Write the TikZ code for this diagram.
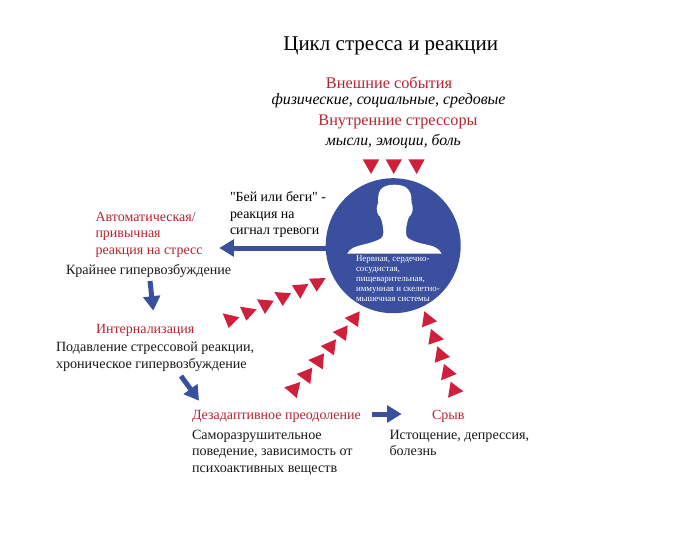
\documentclass[tikz,border=0pt]{standalone}
\usepackage{fontspec}
\setmainfont{Liberation Serif}
\newfontfamily\rawserif{Liberation Serif}
\usetikzlibrary{arrows.meta}
\definecolor{stressblue}{HTML}{3B4F9F}
\definecolor{trired}{HTML}{CF1F3C}
\definecolor{headred}{HTML}{B5242F}
\newcommand{\tri}[3]{\fill[trired] #1 -- #2 -- #3 -- cycle;}
\tikzset{
  every node/.style={inner sep=0pt,outer sep=0pt},
  head/.style={text=headred,anchor=north west,align=left,font=\fontsize{14}{16.4}\selectfont},
  body/.style={text=black!90,anchor=north west,align=left,font=\fontsize{14.1}{16.4}\selectfont},
  mid/.style={anchor=center,align=center},
  flow/.style={draw=stressblue,line width=5pt,-{Triangle[length=14.5pt,width=16.5pt]}},
}
\begin{document}
\begin{tikzpicture}[x=1pt,y=-1pt]
\useasboundingbox (0,0) rectangle (700,543);

% Title and stress sources
\node[mid,font=\fontsize{21}{24}\selectfont] (title) at (390.7,45.5) {Цикл стресса и реакции};
\node[mid,text=headred,font=\fontsize{16.3}{18}\selectfont] (ext) at (389,82.5) {Внешние события};
\node[mid,font=\itshape\fontsize{15.9}{18}\selectfont] (extsub) at (388.5,100.5) {физические, социальные, средовые};
\node[mid,text=headred,font=\fontsize{16.2}{18}\selectfont] (int) at (398,122) {Внутренние стрессоры};
\node[mid,font=\itshape\fontsize{15.7}{18}\selectfont] (intsub) at (393.3,141) {мысли, эмоции, боль};

% Triangles above the figure
\tri{(362.7,159.3)}{(379.3,159.3)}{(371,174)}
\tri{(385.7,159.3)}{(402,159.3)}{(393.7,174)}
\tri{(408.3,159.3)}{(424.7,159.3)}{(416.7,174)}

% Body systems disc with silhouette
\node[circle,fill=stressblue,minimum size=135pt] (disc) at (393.2,245.7) {};
\fill[white] (347.3,253.5) .. controls (350,249) and (353,247.5) .. (358,246)
  .. controls (365,244) and (369,243.5) .. (374,241.5)
  .. controls (380,239.5) and (383.3,238) .. (383.3,233)
  .. controls (383.3,229) and (383,227) .. (382.5,224.5)
  .. controls (381.5,220) and (381,218) .. (380,216.5)
  .. controls (377.5,215) and (376.5,211) .. (376.7,208)
  .. controls (376.9,205) and (378,204) .. (378.3,203)
  .. controls (377.5,196) and (378.5,190.5) .. (383,187.5)
  .. controls (386,185.5) and (390,184.7) .. (394.3,184.7)
  .. controls (399,184.7) and (403,185.5) .. (406,187.5)
  .. controls (410.5,190.5) and (412,196) .. (411.5,203)
  .. controls (412,204) and (412.6,205) .. (412.7,208)
  .. controls (412.9,211) and (411.5,215) .. (409.3,216.5)
  .. controls (408.3,218) and (407.8,220) .. (406.8,224.5)
  .. controls (406.3,227) and (406,229) .. (406,233)
  .. controls (406,238) and (409.5,239.5) .. (415,241.5)
  .. controls (420,243.5) and (425,244) .. (432,246)
  .. controls (436,247.5) and (439,249) .. (441.5,253.5) -- cycle;
\node[anchor=north west,align=left,text=white,font=\fontsize{8.9}{10}\selectfont] (systems) at (356,256)
  {Нервная, сердечно-\\сосудистая,\\пищеварительная,\\иммунная и скелетно-\\мышечная системы};

% Fight-or-flight label
\node[anchor=north west,align=left,font=\rawserif\fontsize{13.9}{16.2}\selectfont] (fight) at (230,192) {"Бей или беги" -\\реакция на\\сигнал тревоги};

% Left column
\node[head] (auto) at (95.5,212) {Автоматическая/\\привычная\\реакция на стресс};
\node[body] (hyper) at (66,264) {Крайнее гипервозбуждение};
\node[head] (inner) at (96,324.5) {Интернализация};
\node[body] (supp) at (56,342) {Подавление стрессовой реакции,\\хроническое гипервозбуждение};
\node[head] (mal) at (192,410) {Дезадаптивное преодоление};
\node[body] (self) at (192,430) {Саморазрушительное\\поведение, зависимость от\\психоактивных веществ};
\node[head] (brk) at (432,410) {Срыв};
\node[body] (exh) at (389.5,430) {Истощение, депрессия,\\болезнь};

% Blue flow arrows
\coordinate (fightend) at (219.3,248);
\draw[flow] (disc.west |- fightend) -- (fightend);
\coordinate (a1) at (150,281);
\coordinate (a2) at (153.3,310.7);
\draw[flow] (a1) -- (a2);
\coordinate (b1) at (181,376);
\coordinate (b2) at (199,400.7);
\draw[flow] (b1) -- (b2);
\coordinate (c1) at (371.5,414);
\coordinate (c2) at (401.7,414);
\draw[flow] (c1) -- (c2);

% Triangles toward the hyperarousal column
\tri{(222.7,313.3)}{(239.3,317.3)}{(228.7,328)}
\tri{(240,306.7)}{(256.7,309.3)}{(246.3,320.7)}
\tri{(257,299.3)}{(273.7,300.7)}{(265,314)}
\tri{(274.3,292)}{(291,293.3)}{(282.7,306)}
\tri{(292,285.3)}{(308.3,284)}{(300.3,298.7)}
\tri{(309,278.7)}{(325.7,278)}{(316.7,291.7)}

% Triangles toward maladaptive coping
\tri{(284.3,387.3)}{(300.3,382)}{(296.7,398)}
\tri{(296.7,374)}{(312.3,367.7)}{(310.3,384)}
\tri{(308.3,360)}{(324,353.3)}{(322.7,369.3)}
\tri{(320.7,346)}{(336,339.3)}{(334,355.3)}
\tri{(332.7,332)}{(347.7,325.3)}{(346,341)}
\tri{(344.7,318)}{(359.7,311.3)}{(358,327)}

% Triangles toward breakdown
\tri{(424.3,311.3)}{(437,321.3)}{(422,327.3)}
\tri{(431,329)}{(444,339.3)}{(428.3,344.7)}
\tri{(437.3,346.3)}{(450,357)}{(434.7,362.7)}
\tri{(444,364)}{(456.7,374)}{(441,380.3)}
\tri{(450.7,381.7)}{(463.3,391.3)}{(448,397.7)}
\end{tikzpicture}
\end{document}
